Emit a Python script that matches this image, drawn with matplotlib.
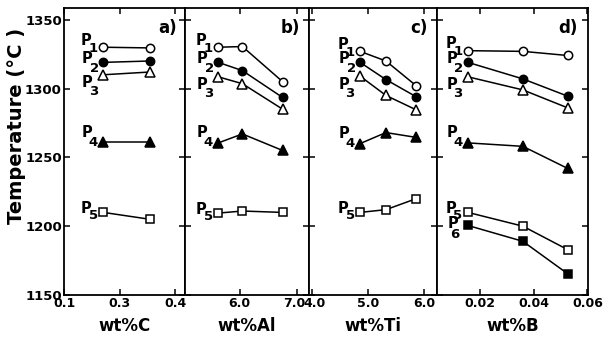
import matplotlib
matplotlib.use("Agg")
import matplotlib.pyplot as plt
import matplotlib.transforms as mtransforms

plt.rcParams['font.family'] = ['Liberation Sans Narrow', 'DejaVu Sans']
plt.rcParams['font.weight'] = 'bold'

# x values (wt%) for each panel
x_C = [0.271, 0.355]
x_Al = [5.63, 6.05, 6.75]
x_Ti = [4.86, 5.32, 5.86]
x_B = [0.0156, 0.036, 0.0526]

# temperatures (deg C), series P1..P6
T_C = {1: [1330, 1329.5], 2: [1319, 1320], 3: [1310, 1312],
       4: [1261, 1261], 5: [1210, 1205]}
T_Al = {1: [1330, 1330.5, 1305], 2: [1319, 1313, 1293.5], 3: [1308.5, 1303.5, 1285],
        4: [1260.5, 1267, 1255], 5: [1209.5, 1211, 1210]}
T_Ti = {1: [1327, 1320, 1302], 2: [1319, 1306.5, 1294], 3: [1309, 1295, 1284.5],
        4: [1260, 1268, 1264.5], 5: [1210, 1212, 1220]}
T_B = {1: [1327.5, 1327, 1324], 2: [1319, 1307, 1294.5], 3: [1308.5, 1299, 1286],
       4: [1260.5, 1258, 1242], 5: [1210, 1200, 1183], 6: [1200.5, 1189, 1165.5]}

xlabels = ['wt%C', 'wt%Al', 'wt%Ti', 'wt%B']
panel_tags = ['a)', 'b)', 'c)', 'd)']
xticks = [[0.2, 0.3, 0.4], [6.0, 7.0], [4.0, 5.0, 6.0], [0.02, 0.04, 0.06]]
xticklabels = [['0.1', '0.3', '0.4'], ['6.0', '7.0'], ['4.0', '5.0', '6.0'], ['0.02', '0.04', '0.06']]
yticks = [1150, 1200, 1250, 1300, 1350]

# marker style per series: (marker, filled)
styles = {1: ('o', False), 2: ('o', True), 3: ('^', False),
          4: ('^', True), 5: ('s', False), 6: ('s', True)}
# label offsets in pixels from first point: (P dx, P dy, digit dx, digit dy)
lab_off = {1: (-17, 7, -10, -1), 2: (-16, 4, -9, -6), 3: (-16, -8, -10, -17),
           4: (-16, 10, -10, 0), 5: (-17, 4, -10, -3), 6: (-15, 2, -13, -9)}

fig = plt.figure(figsize=(6.06, 3.42), dpi=100)
W, H = 606, 342
edges = [64, 185, 309, 437, 588]
top, bot = 8, 295
xlims = [(0.2, 0.418), (5.05, 7.21), (3.95, 6.23), (0.0041, 0.0602)]
data = [(x_C, T_C), (x_Al, T_Al), (x_Ti, T_Ti), (x_B, T_B)]

for i, (xs, Ts) in enumerate(data):
    ax = fig.add_axes([edges[i] / W, 1 - bot / H, (edges[i + 1] - edges[i]) / W, (bot - top) / H])
    for k, ys in Ts.items():
        m, filled = styles[k]
        ax.plot(xs, ys, color='black', lw=1.1, marker=m, ms=6 if m != '^' else 6.5,
                mfc='black' if filled else 'white', mec='black', mew=1.1, zorder=3)
        pdx, pdy, ddx, ddy = lab_off[k]
        ax.annotate('P', (xs[0], ys[0]), xytext=(pdx, pdy), textcoords='offset pixels',
                    ha='center', va='center', fontsize=10.5, fontweight='bold')
        ax.annotate(str(k), (xs[0], ys[0]), xytext=(ddx, ddy), textcoords='offset pixels',
                    ha='center', va='center', fontsize=9.5, fontweight='bold')
    ax.set_xlim(xlims[i])
    ax.set_ylim(1150, 1358.5)
    ax.set_xticks(xticks[i])
    ax.set_xticklabels(xticklabels[i])
    ax.set_yticks(yticks)
    ax.tick_params(direction='in', top=True, right=True, length=4, width=1.1,
                   labelsize=9, pad=1.5)
    ax.tick_params(axis='y', labelsize=9.5)
    if i > 0:
        ax.set_yticklabels([])
    else:
        for lb in ax.get_yticklabels():
            lb.set_fontweight('bold')
    for lb in ax.get_xticklabels():
        lb.set_fontweight('bold')
    # labels next to the panel joins sit a little away from their ticks
    xl = ax.get_xticklabels()
    if i == 1:
        xl[-1].set_transform(xl[-1].get_transform() +
                             mtransforms.ScaledTranslation(-3 / 100, 0, fig.dpi_scale_trans))
    if i == 2:
        xl[0].set_transform(xl[0].get_transform() +
                            mtransforms.ScaledTranslation(3 / 100, 0, fig.dpi_scale_trans))
    for s in ax.spines.values():
        s.set_linewidth(1.3)
    ax.set_xlabel(xlabels[i], fontsize=12, fontweight='bold', labelpad=5,
                  family=['DejaVu Sans'])
    ax.text(0.93, 0.93, panel_tags[i], transform=ax.transAxes, ha='right', va='center',
            fontsize=12, fontweight='bold', family=['DejaVu Sans'])
    if i == 0:
        ax.set_ylabel('Temperature (°C )', fontsize=14, fontweight='bold',
                      family=['DejaVu Sans'])
        ax.yaxis.set_label_coords(-0.31, 0.59)

fig.savefig('out.png', dpi=100)
